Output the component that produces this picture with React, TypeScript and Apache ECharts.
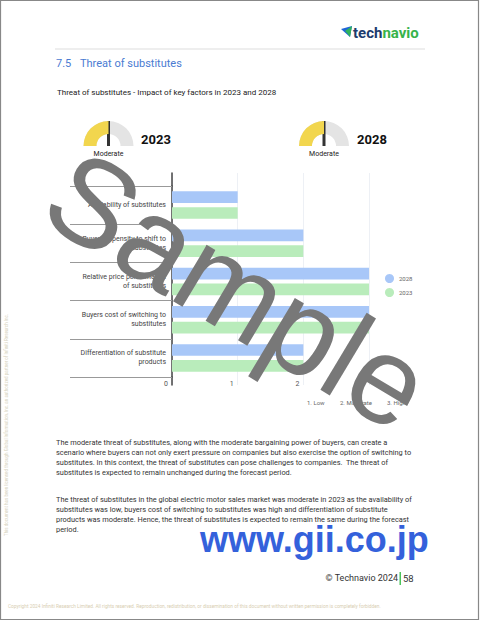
import React, { useEffect, useRef } from "react";
import * as echarts from "echarts";

// ---------- data ----------
const categories = [
  "Availability of substitutes",
  "Buyer propensity to shift to\nsubstitutes",
  "Relative price performance\nof substitutes",
  "Buyers cost of switching to\nsubstitutes",
  "Differentiation of substitute\nproducts",
];
const seriesNames = ["2028", "2023"];
const values2028 = [1, 2, 3, 3, 2];
const values2023 = [1, 2, 3, 3, 2];
const xMin = 0;
const xMax = 3;
const xInterval = 1;
const gaugeYears = ["2023", "2028"];
const gaugeValues = [2, 2];
const gaugeLabels = ["Moderate", "Moderate"];
const scaleKey = ["1. Low", "2. Moderate", "3. High"];

const sectionNo = "7.5";
const sectionTitle = "Threat of substitutes";
const chartTitle = "Threat of substitutes - Impact of key factors in 2023 and 2028";
const para1 = [
  "The moderate threat of substitutes, along with the moderate bargaining power of buyers, can create a",
  "scenario where buyers can not only exert pressure on companies but also exercise the option of switching to",
  "substitutes. In this context, the threat of substitutes can pose challenges to companies.  The threat of",
  "substitutes is expected to remain unchanged during the forecast period.",
];
const para2 = [
  "The threat of substitutes in the global electric motor sales market was moderate in 2023 as the availability of",
  "substitutes was low, buyers cost of switching to substitutes was high and differentiation of substitute",
  "products was moderate. Hence, the threat of substitutes is expected to remain the same during the forecast",
  "period.",
];
const copyrightText =
  "Copyright 2024 Infiniti Research Limited. All rights reserved. Reproduction, redistribution, or dissemination of this document without written permission is completely forbidden.";
const sideText =
  "This document has been licensed through Global Information, Inc. an authorized partner of Infiniti Research Inc.";

const FONT = "Roboto, 'Liberation Sans', sans-serif";

export default function App() {
  const ref = useRef<HTMLDivElement>(null);
  useEffect(() => {
    if (!ref.current) return;
    const chart = echarts.init(ref.current, undefined, { renderer: "svg" });

    const gaugeCenters = [108.5, 324];
    const yearX = [141, 357];
    const keyX = [307, 340, 387];

    const stripAxisX = (gi: number) => ({
      gridIndex: gi,
      type: "value",
      min: xMin,
      max: xMax,
      interval: xInterval,
      axisLine: { show: false },
      axisTick: { show: false },
      axisLabel: { show: false },
      splitLine: { show: true, lineStyle: { color: "#EDF0F5", width: 1 } },
    });
    const stripAxisY = (gi: number) => ({
      gridIndex: gi,
      type: "value",
      axisLine: { show: true, lineStyle: { color: "#444", width: 1.5 } },
      axisTick: { show: false },
      axisLabel: { show: false },
      splitLine: { show: false },
    });

    const option: any = {
      animation: false,
      backgroundColor: "#fff",
      textStyle: { fontFamily: FONT },
      grid: [
        { left: 172, right: 111, top: 186, height: 191 },
        { left: 172, right: 111, top: 173, height: 13 },
        { left: 172, right: 111, top: 377, height: 8 },
      ],
      legend: {
        data: seriesNames,
        orient: "vertical",
        left: 380,
        top: 269,
        icon: "circle",
        itemWidth: 9,
        itemHeight: 9,
        itemGap: 5,
        textStyle: { fontSize: 6, color: "#666", fontFamily: FONT },
      },
      xAxis: [
        {
          gridIndex: 0,
          type: "value",
          min: xMin,
          max: xMax,
          interval: xInterval,
          axisLine: { show: false },
          axisTick: { show: false },
          splitLine: { show: true, lineStyle: { color: "#EDF0F5", width: 1 } },
          axisLabel: {
            fontSize: 7,
            color: "#555",
            align: "right",
            padding: [0, 4, 0, 0],
            margin: 3,
            fontFamily: FONT,
          },
        },
        stripAxisX(1),
        stripAxisX(2),
      ],
      yAxis: [
        {
          gridIndex: 0,
          type: "category",
          inverse: true,
          data: categories,
          axisLine: { show: true, lineStyle: { color: "#444", width: 1.5 } },
          axisTick: { show: true, length: 102, lineStyle: { color: "#999", width: 1 } },
          axisLabel: {
            fontSize: 7,
            color: "#444",
            lineHeight: 9,
            margin: 6,
            fontFamily: FONT,
          },
        },
        stripAxisY(1),
        stripAxisY(2),
      ],
      series: [
        {
          name: seriesNames[0],
          type: "bar",
          xAxisIndex: 0,
          yAxisIndex: 0,
          data: values2028,
          itemStyle: { color: "#A8C7F8" },
          barCategoryGap: "28%",
          barGap: "35%",
        },
        {
          name: seriesNames[1],
          type: "bar",
          xAxisIndex: 0,
          yAxisIndex: 0,
          data: values2023,
          itemStyle: { color: "#B9ECBB" },
          barCategoryGap: "28%",
          barGap: "35%",
        },
        ...gaugeYears.map((yr, i) => ({
          type: "gauge",
          name: "gauge" + yr,
          center: [gaugeCenters[i], 146],
          radius: 25,
          startAngle: 180,
          endAngle: 0,
          min: 1,
          max: 3,
          silent: true,
          axisLine: { lineStyle: { width: 13, color: [[1, "#E4E4E4"]] } },
          progress: { show: true, width: 13, itemStyle: { color: "#F2D64E" } },
          pointer: { icon: "rect", length: "100%", width: 3, itemStyle: { color: "#333" } },
          anchor: { show: false },
          axisTick: { show: false },
          splitLine: { show: false },
          axisLabel: { show: false },
          title: { show: false },
          detail: { show: false },
          data: [{ value: gaugeValues[i] }],
        })),
      ],
      graphic: [
        // page frame
        {
          type: "rect",
          shape: { x: 0.5, y: 0.5, width: 478, height: 619 },
          style: { fill: "none", stroke: "#888", lineWidth: 1.2 },
        },
        // header rule
        {
          type: "line",
          shape: { x1: 55, y1: 49, x2: 425, y2: 49 },
          style: { stroke: "#e8e8e8", lineWidth: 1.5 },
        },
        // logo icon
        {
          type: "polygon",
          shape: { points: [[341, 29], [352, 26], [350, 37]] },
          style: { fill: "#1f66d6" },
        },
        {
          type: "polygon",
          shape: { points: [[345, 31], [352, 26], [350, 37], [347, 33]] },
          style: { fill: "#2fb45a" },
        },
        {
          type: "text",
          x: 353,
          y: 33,
          style: {
            text: "{a|tech}{b|navio}",
            verticalAlign: "middle",
            rich: {
              a: { fontSize: 15, fontWeight: "bold", fill: "#1d3c6e", fontFamily: FONT },
              b: { fontSize: 15, fontWeight: "bold", fill: "#36b34a", fontFamily: FONT },
            },
          },
        },
        // section heading
        {
          type: "text",
          x: 56,
          y: 63,
          style: { text: sectionNo, fontSize: 11, fill: "#4a7bd2", fontFamily: FONT, verticalAlign: "middle" },
        },
        {
          type: "text",
          x: 80,
          y: 63,
          style: { text: sectionTitle, fontSize: 11, fill: "#4a7bd2", fontFamily: FONT, verticalAlign: "middle" },
        },
        // chart title
        {
          type: "text",
          x: 57,
          y: 92,
          style: { text: chartTitle, fontSize: 8, fill: "#222", fontFamily: FONT, verticalAlign: "middle" },
        },
        // gauge years + labels
        ...gaugeYears.map((yr, i) => ({
          type: "text",
          x: yearX[i],
          y: 139,
          style: {
            text: yr,
            fontSize: 13,
            fontWeight: "bold",
            fill: "#111",
            fontFamily: FONT,
            verticalAlign: "middle",
          },
        })),
        ...gaugeLabels.map((lb, i) => ({
          type: "text",
          x: gaugeCenters[i],
          y: 154,
          style: { text: lb, fontSize: 7, fill: "#222", fontFamily: FONT, align: "center", verticalAlign: "middle" },
        })),
        // scale key
        ...scaleKey.map((k, i) => ({
          type: "text",
          x: keyX[i],
          y: 402,
          style: { text: k, fontSize: 6, fill: "#666", fontFamily: FONT, verticalAlign: "middle" },
        })),
        // paragraphs
        {
          type: "text",
          x: 56,
          y: 437,
          style: { text: para1.join("\n"), fontSize: 7.4, lineHeight: 10, fill: "#333", fontFamily: FONT },
        },
        {
          type: "text",
          x: 56,
          y: 494,
          style: { text: para2.join("\n"), fontSize: 7.4, lineHeight: 10, fill: "#333", fontFamily: FONT },
        },
        // gii url
        {
          type: "text",
          x: 200,
          y: 539,
          style: {
            text: "www.gii.co.jp",
            fontSize: 36,
            fontWeight: "bold",
            fill: "#3461db",
            fontFamily: "'Liberation Sans', Arial, sans-serif",
            verticalAlign: "middle",
          },
        },
        // footer
        {
          type: "text",
          x: 398,
          y: 578,
          style: { text: "© Technavio 2024", fontSize: 9, fill: "#333", fontFamily: FONT, align: "right", verticalAlign: "middle" },
        },
        {
          type: "rect",
          shape: { x: 399.5, y: 572, width: 1.5, height: 13 },
          style: { fill: "#4cc35a" },
        },
        {
          type: "text",
          x: 403,
          y: 578,
          style: { text: "58", fontSize: 9.5, fill: "#333", fontFamily: FONT, verticalAlign: "middle" },
        },
        {
          type: "text",
          x: 8,
          y: 606,
          style: { text: copyrightText, fontSize: 4.8, fill: "#d8ceb2", fontFamily: FONT, verticalAlign: "middle" },
        },
        {
          type: "text",
          x: 6,
          y: 425,
          rotation: Math.PI / 2,
          style: { text: sideText, fontSize: 4.5, fill: "#d6d2bc", fontFamily: FONT, align: "center", verticalAlign: "middle" },
        },
        // watermark
        {
          type: "text",
          x: 238,
          y: 290,
          z: 100,
          rotation: (-31 * Math.PI) / 180,
          style: {
            text: "Sample",
            fontSize: 124,
            fill: "#787878",
            fontFamily: "'Liberation Sans', Arial, sans-serif",
            align: "center",
            verticalAlign: "middle",
          },
        },
      ],
    };

    chart.setOption(option);
    return () => chart.dispose();
  }, []);

  return (
    <div
      ref={ref}
      style={{ position: "absolute", left: 0, top: 0, width: 480, height: 621, background: "#fff" }}
    />
  );
}
